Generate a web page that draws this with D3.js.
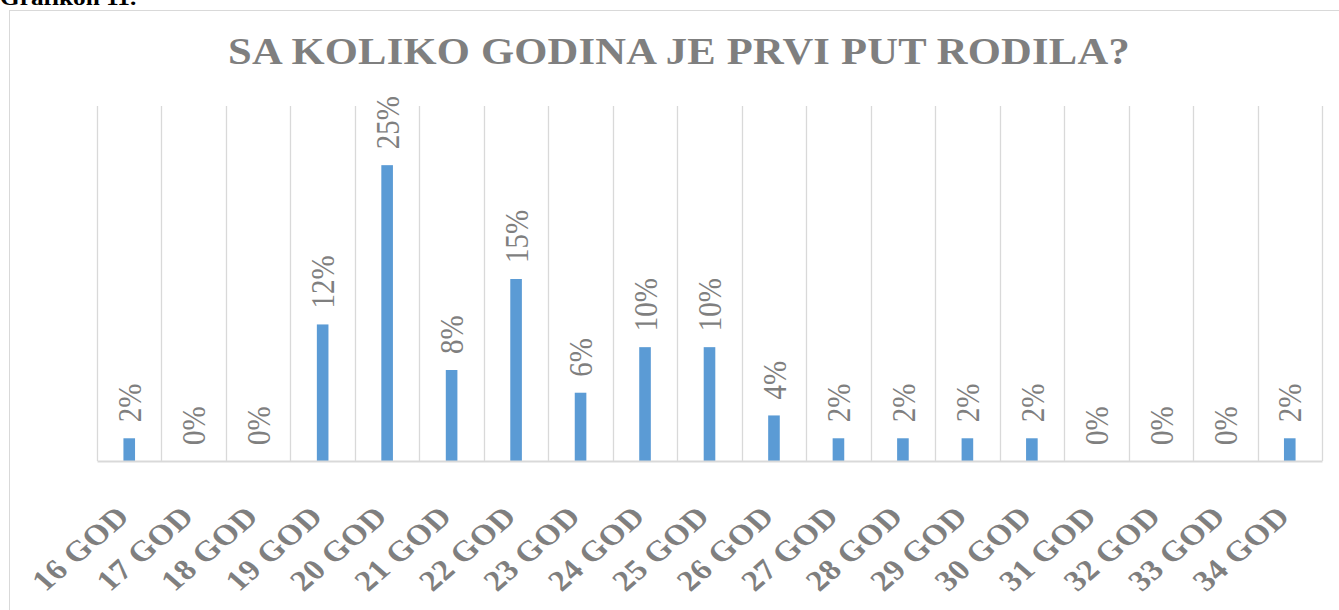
<!DOCTYPE html>
<html>
<head>
<meta charset="utf-8">
<script src="https://cdn.jsdelivr.net/npm/d3@7"></script>
<style>
    body { margin: 0; background: #fff; }
    svg { display: block; }
    text { font-family: "Liberation Serif", "Times New Roman", serif; }
</style>
</head>
<body>
<svg id="chart"></svg>
<script>
const CHART_WIDTH = 1339;
const CHART_HEIGHT = 610;
const PLOT = { left: 97, right: 1322, top: 106, bottom: 461 };
const STRETCH = 1.15; // the picture is a bit wider than tall

const CATEGORIES = ["16 GOD", "17 GOD", "18 GOD", "19 GOD", "20 GOD", "21 GOD", "22 GOD",
    "23 GOD", "24 GOD", "25 GOD", "26 GOD", "27 GOD", "28 GOD", "29 GOD", "30 GOD",
    "31 GOD", "32 GOD", "33 GOD", "34 GOD"]
const VALUES = [0.0192, 0, 0, 0.1154, 0.25, 0.0769, 0.1538, 0.0577, 0.0962, 0.0962,
    0.0385, 0.0192, 0.0192, 0.0192, 0.0192, 0, 0, 0, 0.0192]
const Y_MAX = 0.30
const TITLE = "SA KOLIKO GODINA JE PRVI PUT RODILA?"
const CAPTION = "Grafikon 11."

function render(){
    let data = CATEGORIES.map((c, i) => ({label: c, value: VALUES[i]}))

    const svg = d3.select('#chart')
        .attr("width", CHART_WIDTH)
        .attr("height", CHART_HEIGHT)

    // caption of the document, cut off at the top like in the scan
    svg.append("text")
        .attr("transform", `translate(0,5) scale(${STRETCH},1)`)
        .attr("font-size", 22)
        .attr("font-weight", "bold")
        .attr("fill", "#000")
        .text(CAPTION)

    // chart area border
    svg.append("rect")
        .attr("x", 9.5).attr("y", 10.5)
        .attr("width", 1400).attr("height", 700)
        .attr("fill", "none")
        .attr("stroke", "#d9d9d9")

    svg.append("text")
        .attr("transform", `translate(679,64) scale(${STRETCH},1)`)
        .attr("text-anchor", "middle")
        .attr("font-size", 37)
        .attr("font-weight", "bold")
        .attr("letter-spacing", 0.2)
        .attr("fill", "#7f7f7f")
        .text(TITLE)

    let x = d3.scaleBand()
        .domain(CATEGORIES)
        .range([PLOT.left, PLOT.right])
        .padding(0)

    const y = d3.scaleLinear()
        .domain([0, Y_MAX])
        .range([PLOT.bottom, PLOT.top])

    // vertical gridlines between categories
    let edges = CATEGORIES.map(c => x(c)).concat([x.range()[1]])
    svg.append("g")
        .selectAll("line")
        .data(edges)
        .join("line")
        .attr("x1", d => Math.round(d) + 0.5)
        .attr("x2", d => Math.round(d) + 0.5)
        .attr("y1", y(Y_MAX))
        .attr("y2", y(0))
        .attr("stroke", "#d9d9d9")
        .attr("stroke-width", 1.3)

    const barW = x.bandwidth() * 0.18
    svg.append("g")
        .selectAll("rect")
        .data(data)
        .join("rect")
        .attr("x", d => x(d.label) + x.bandwidth() / 2 - barW / 2)
        .attr("y", d => y(d.value))
        .attr("width", barW)
        .attr("height", d => y(0) - y(d.value))
        .attr("fill", "#5b9bd5")

    // x axis line
    svg.append("g")
        .attr("transform", `translate(0,${y(0)})`)
        .call(d3.axisBottom(x).tickSize(0).tickFormat(""))
        .call(g => g.select(".domain").attr("stroke", "#d9d9d9").attr("stroke-width", 2))

    // value labels, rotated
    const fmt = d3.format(".0%")
    svg.append("g")
        .selectAll("text")
        .data(data)
        .join("text")
        .attr("transform", d => `translate(${x(d.label) + x.bandwidth() / 2},${y(d.value) - 16}) scale(${STRETCH},1) rotate(-90)`)
        .attr("dy", "0.35em")
        .attr("font-size", 29)
        .attr("fill", "#7f7f7f")
        .text(d => fmt(d.value))

    // category labels at -45 degrees
    svg.append("g")
        .selectAll("text")
        .data(CATEGORIES)
        .join("text")
        .attr("transform", d => `translate(${x(d) + x.bandwidth() / 2 + 2},${y(0) + 57}) scale(${STRETCH},1) rotate(-45)`)
        .attr("text-anchor", "end")
        .attr("font-size", 29)
        .attr("font-weight", "bold")
        .attr("letter-spacing", 0.5)
        .attr("fill", "#7f7f7f")
        .text(d => d)
}

render()
</script>
</body>
</html>
